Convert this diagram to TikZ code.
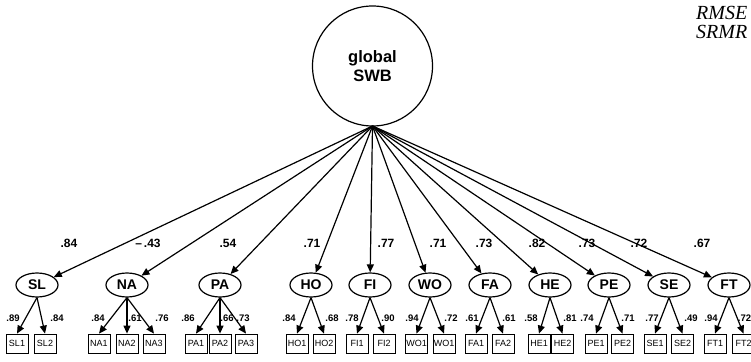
\documentclass[tikz,border=0pt]{standalone}
\usepackage{fontspec}
\setmainfont{Liberation Sans}
\newfontfamily\fitfont{Liberation Serif}
\usetikzlibrary{arrows.meta,shapes.geometric}
\begin{document}
\begin{tikzpicture}[x=1pt,y=-1pt,
 lat/.style={draw, ellipse, line width=1.2pt, minimum width=42pt, minimum height=24pt, inner sep=0pt, font=\fontsize{14}{14}\selectfont\bfseries},
 ind/.style={draw, rectangle, line width=0.8pt, minimum width=22pt, minimum height=19pt, inner sep=0pt, font=\fontsize{9}{9}\selectfont},
 arr/.style={line width=1.2pt, -{Triangle[length=8pt,width=7pt]}},
 ld/.style={font=\fontsize{12}{12}\selectfont\bfseries, inner sep=0pt},
 sld/.style={font=\fontsize{9.5}{9.5}\selectfont\bfseries, inner sep=0pt},
 fit/.style={anchor=base west, inner sep=0pt, font=\fitfont\itshape\fontsize{20}{20}\selectfont},
]
\useasboundingbox (0,0) rectangle (751,361);
\clip (0,0) rectangle (751,361);

\node[draw, circle, line width=1.2pt, minimum size=120pt, inner sep=0pt, align=center,
      font=\fontsize{16.5}{19}\selectfont\bfseries] (g) at (372.5,66) {global\\SWB};
\coordinate (gs) at (372.5,126);

\node[fit] (rmse) at (696,20) {RMSE};
\node[fit] (srmr) at (696,39) {SRMR};

\foreach \n/\x in {SL/37, NA/127, PA/220, HO/311, FI/370, WO/430, FA/490, HE/550, PE/609, SE/669, FT/729}{
  \node[lat] (\n) at (\x,285) {\n};
  \draw[arr] (gs) -- (\n);
}

\foreach \i/\t/\x/\y in {1/.84/69/243, 2/–\,.43/148/243, 3/.54/228/243, 4/.71/312/243, 5/.77/386/243, 6/.71/438/243,
  7/.73/484/243, 8/.82/537/243, 9/.73/587/243, 10/.72/639/243, 11/.67/702/243}{
  \node[ld] (top\i) at (\x,\y) {\t};
}

\foreach \id/\t/\l/\x in {
  sl1/SL1/SL/17, sl2/SL2/SL/45,
  na1/NA1/NA/99, na2/NA2/NA/127, na3/NA3/NA/154,
  pa1/PA1/PA/196, pa2/PA2/PA/220, pa3/PA3/PA/246,
  ho1/HO1/HO/297, ho2/HO2/HO/324,
  fi1/FI1/FI/357, fi2/FI2/FI/384,
  wo1/WO1/WO/416.5, wo2/WO1/WO/444,
  fa1/FA1/FA/476, fa2/FA2/FA/503,
  he1/HE1/HE/539, he2/HE2/HE/562.5,
  pe1/PE1/PE/596, pe2/PE2/PE/622.5,
  se1/SE1/SE/655, se2/SE2/SE/682.5,
  ft1/FT1/FT/715, ft2/FT2/FT/743.5}{
  \node[ind] (\id) at (\x,343.5) {\t};
  \draw[arr] (\l.south) -- (\id.north);
}

\foreach \i/\t/\x in {1/.89/13, 2/.84/57, 3/.84/98, 4/.61/135, 5/.76/162, 6/.86/188, 7/.66/227, 8/.73/243,
  9/.84/289, 10/.68/332, 11/.78/352, 12/.90/388, 13/.94/412, 14/.72/451, 15/.61/472, 16/.61/509,
  17/.58/531, 18/.81/570, 19/.74/587, 20/.71/628, 21/.77/652, 22/.49/691, 23/.94/711, 24/.72/744.5}{
  \node[sld] (il\i) at (\x,318) {\t};
}
\end{tikzpicture}
\end{document}
